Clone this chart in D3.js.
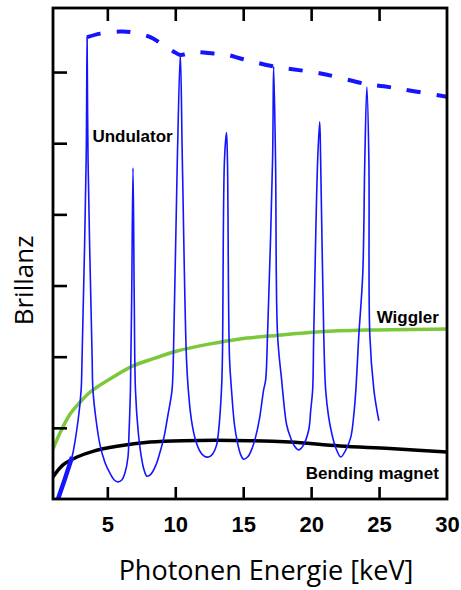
<!DOCTYPE html>
<html>
<head>
<meta charset="utf-8">
<script src="https://cdn.jsdelivr.net/npm/d3@7"></script>
<style>
  body { margin: 0; background: #fff; }
  svg { display: block; }
</style>
</head>
<body>
<div id="chart"></div>
<script>
// photon energy [keV] / brilliance (arbitrary units)
var xTicks = [5, 10, 15, 20, 25, 30];
var yTicks = [1, 2, 3, 4, 5, 6];

var bendingX = [1.00, 1.74, 2.77, 3.94, 5.71, 8.14, 10.57, 15.50, 18.44, 22.12, 25.80, 30.00];
var bendingY = [0.31, 0.48, 0.59, 0.67, 0.74, 0.80, 0.82, 0.82, 0.80, 0.745, 0.71, 0.66];

var wigglerX = [1.00, 1.52, 2.25, 2.99, 3.72, 4.46, 5.56, 6.89, 8.51, 10.13, 12.56, 14.76, 16.97, 20.65, 24.33, 30.00];
var wigglerY = [0.70, 0.93, 1.19, 1.36, 1.50, 1.60, 1.73, 1.87, 1.98, 2.08, 2.18, 2.25, 2.29, 2.35, 2.375, 2.39];

var envelopeX = [3.51, 4.47, 5.94, 6.83, 8.16, 9.12, 9.86, 10.37, 10.89, 11.33, 12.81, 13.84, 15.02, 17.24, 20.70, 24.10, 25.35, 30.08];
var envelopeY = [6.49, 6.54, 6.57, 6.56, 6.49, 6.38, 6.29, 6.24, 6.26, 6.28, 6.26, 6.24, 6.18, 6.08, 5.98, 5.83, 5.80, 5.65];

var undulatorX = [1.37, 1.89, 2.40, 2.85, 3.07, 3.14, 3.44, 3.51, 3.58, 3.88, 3.94,
  4.17, 4.46, 4.83, 5.20, 5.49, 5.78, 6.08, 6.30, 6.52, 6.59, 6.70, 6.79, 6.89, 6.98, 7.07,
  7.26, 7.48, 7.70, 7.92, 8.21, 8.58, 8.88, 9.17, 9.46, 9.76, 9.86, 10.15, 10.37, 10.52, 10.82, 10.96,
  11.19, 11.49, 11.85, 12.14, 12.44, 12.74, 13.03, 13.18, 13.40, 13.47, 13.62, 13.77, 13.84, 13.99, 14.14,
  14.36, 14.58, 14.80, 15.02, 15.32, 15.61, 15.91, 16.20, 16.50, 16.65, 16.79, 17.16, 17.24, 17.38, 17.53, 17.83, 17.90,
  18.20, 18.49, 18.79, 19.08, 19.38, 19.82, 19.97, 20.11, 20.19, 20.48, 20.63, 20.70, 20.93, 21.07,
  21.29, 21.52, 21.81, 22.18, 22.55, 22.92, 23.14, 23.29, 23.51, 23.80, 23.95, 24.10, 24.25, 24.32, 24.62, 24.84, 24.99];
var undulatorY = [0.00, 0.29, 0.59, 1.11, 1.53, 1.99, 4.76, 6.50, 4.76, 1.99, 1.53,
  1.11, 0.76, 0.51, 0.36, 0.27, 0.24, 0.27, 0.37, 0.59, 0.90, 1.53, 2.80, 4.65, 2.80, 1.53,
  0.97, 0.62, 0.41, 0.32, 0.35, 0.48, 0.66, 0.87, 1.18, 1.53, 1.99, 4.76, 6.25, 4.76, 1.99, 1.53,
  1.11, 0.83, 0.66, 0.60, 0.59, 0.63, 0.75, 0.94, 1.53, 1.99, 4.76, 5.15, 4.76, 1.99, 1.53,
  1.04, 0.79, 0.63, 0.56, 0.59, 0.69, 0.87, 1.13, 1.53, 1.67, 2.30, 4.76, 6.08, 4.76, 2.30, 1.67, 1.53,
  1.04, 0.86, 0.74, 0.69, 0.74, 0.97, 1.25, 1.53, 2.30, 4.76, 5.30, 4.76, 2.30, 1.53,
  1.15, 0.92, 0.72, 0.59, 0.69, 0.87, 1.18, 1.53, 2.30, 3.17, 4.76, 5.79, 4.76, 2.30, 1.53, 1.25, 1.10];

var W = 461, H = 590;
var margin = {top: 8, right: 14, bottom: 91, left: 53};
var width = W - margin.left - margin.right;
var height = H - margin.top - margin.bottom;

var svg = d3.select("#chart").append("svg")
  .attr("width", W)
  .attr("height", H);

var g = svg.append("g")
  .attr("transform", "translate(" + margin.left + "," + margin.top + ")");

var x = d3.scaleLinear().domain([1, 30]).range([0, width]);
var y = d3.scaleLinear().domain([0, 6.9]).range([height, 0]);

function zip(xs, ys) {
  return xs.map(function(v, i) { return [v, ys[i]]; });
}

g.append("clipPath").attr("id", "plot-clip")
  .append("rect").attr("width", width).attr("height", height);

var line = d3.line()
  .x(function(d) { return x(d[0]); })
  .y(function(d) { return y(d[1]); })
  .curve(d3.curveCatmullRom.alpha(0.5));

var plot = g.append("g").attr("clip-path", "url(#plot-clip)");

var undulator = zip(undulatorX, undulatorY);

// bending magnet
plot.append("path")
  .datum(zip(bendingX, bendingY))
  .attr("d", line)
  .attr("fill", "none")
  .attr("stroke", "#000")
  .attr("stroke-width", 3.5);

// wiggler
plot.append("path")
  .datum(zip(wigglerX, wigglerY))
  .attr("d", line)
  .attr("fill", "none")
  .attr("stroke", "#7cc83a")
  .attr("stroke-width", 3.5);

// undulator harmonics
plot.append("path")
  .datum(undulator)
  .attr("d", line)
  .attr("fill", "none")
  .attr("stroke", "#1414ff")
  .attr("stroke-width", 1.6)
  .attr("stroke-linejoin", "round");

// thick start of the first harmonic
plot.append("path")
  .datum(undulator.slice(0, 3))
  .attr("d", d3.line().x(function(d) { return x(d[0]); }).y(function(d) { return y(d[1]); }))
  .attr("fill", "none")
  .attr("stroke", "#1414ff")
  .attr("stroke-width", 4.5);

// envelope of the undulator peaks
plot.append("path")
  .datum(zip(envelopeX, envelopeY))
  .attr("d", line)
  .attr("fill", "none")
  .attr("stroke", "#1414ff")
  .attr("stroke-width", 4)
  .attr("stroke-dasharray", "14,16");

// axes: ticks pointing inward, no y labels
var xb = g.append("g")
  .attr("transform", "translate(0," + height + ")")
  .call(d3.axisBottom(x).tickValues(xTicks).tickSize(-12).tickPadding(17).tickSizeOuter(0));
xb.select(".domain").remove();
xb.selectAll(".tick line").filter(function(d) { return d === 30; }).remove();
xb.selectAll(".tick line").attr("stroke", "#000").attr("stroke-width", 2.6);
xb.selectAll(".tick text")
  .attr("fill", "#000")
  .attr("dy", "0.72em")
  .style("font-family", "'Liberation Sans', Arial, sans-serif")
  .style("font-weight", "bold")
  .style("font-size", "22px");

var xt = g.append("g")
  .call(d3.axisTop(x).tickValues(xTicks.filter(function(d) { return d < 30; })).tickSize(-13).tickFormat("").tickSizeOuter(0));
xt.select(".domain").remove();
xt.selectAll(".tick line").attr("stroke", "#000").attr("stroke-width", 2.6);

var yl = g.append("g")
  .call(d3.axisLeft(y).tickValues(yTicks).tickSize(-14).tickFormat("").tickSizeOuter(0));
yl.select(".domain").remove();
yl.selectAll(".tick line").attr("stroke", "#000").attr("stroke-width", 2.6);

// frame
g.append("rect")
  .attr("width", width)
  .attr("height", height)
  .attr("fill", "none")
  .attr("stroke", "#000")
  .attr("stroke-width", 2.8);

// labels
var lab = g.append("g")
  .style("font-family", "'Liberation Sans', Arial, sans-serif")
  .style("font-weight", "bold")
  .style("font-size", "17px")
  .attr("fill", "#000");

lab.append("text").attr("x", x(3.9)).attr("y", y(5.01)).text("Undulator");
lab.append("text").attr("x", x(29.4)).attr("y", y(2.48)).attr("text-anchor", "end").text("Wiggler");
lab.append("text").attr("x", x(29.4)).attr("y", y(0.28)).attr("text-anchor", "end").text("Bending magnet");

svg.append("text")
  .attr("x", 266)
  .attr("y", 580)
  .attr("text-anchor", "middle")
  .style("font-family", "'Open Sans', 'Noto Sans', sans-serif")
  .style("font-size", "27px")
  .attr("fill", "#000")
  .text("Photonen Energie [keV]");

svg.append("text")
  .attr("transform", "translate(33," + (margin.top + height / 2 + 27) + ") rotate(-90)")
  .attr("text-anchor", "middle")
  .style("font-family", "'Open Sans', 'Noto Sans', sans-serif")
  .style("font-size", "26px")
  .attr("fill", "#000")
  .text("Brillanz");
</script>
</body>
</html>
